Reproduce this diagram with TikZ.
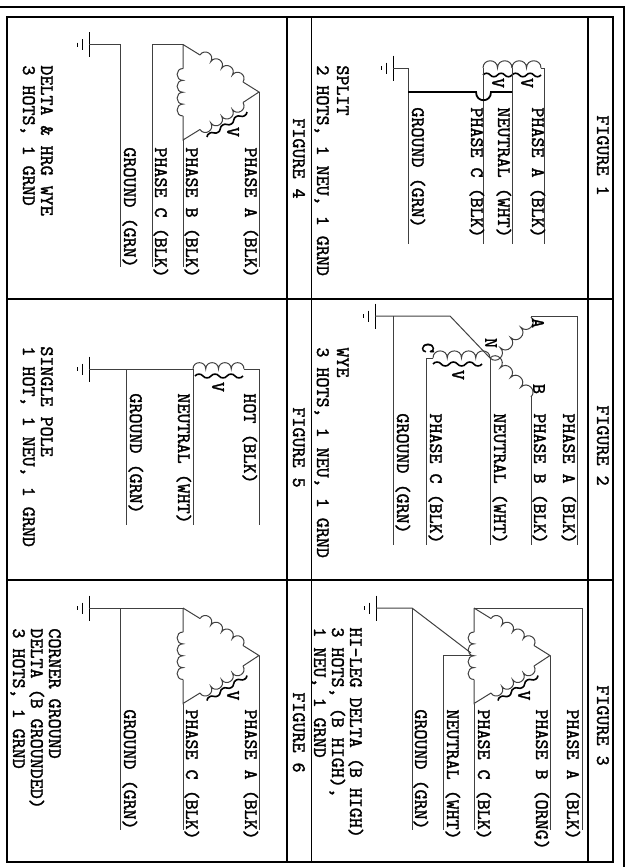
\documentclass[tikz,border=0pt]{standalone}
\usepackage{xcolor}
\usepackage{fontspec}
\usetikzlibrary{calc}
\newfontfamily\lblfont[FakeBold=1.6]{Latin Modern Mono}

% ground symbol, three bars left of the point
\newcommand{\gndsym}[3]{
	\coordinate (#1) at (#2,#3);
	\draw [bar] (#2,#3-12.5) -- (#2,#3+12.5);
	\draw [bar] (#2-7,#3-5.5) -- (#2-7,#3+5.5);
	\draw [bar] (#2-12,#3-2) -- (#2-12,#3+2);
}
% winding from #1 to #2 with #3 humps on the left of the way
\newcommand{\coilwire}[3]{
	\draw [wire] (#1) \foreach \i in {1,...,#3} { to [hump] ($(#1)!\i/#3!(#2)$) };
}
% voltage squiggle from #1 to #2 with #3 half waves
\newcommand{\wigglewire}[3]{
	\draw [wiggle] (#1) \foreach \i [evaluate=\i as \s using {(2*mod(\i,2)-1)*55}, evaluate=\s as \e using {180-\s}] in {1,...,#3} { to [out=\s,in=\e,relative] ($(#1)!\i/#3!(#2)$) };
}
% delta winding, corners are #1a #1b #1c
\newcommand{\deltabank}[3]{
	\begin{scope}[shift={(#2,#3)}]
		\coordinate (#1a) at (0,0);
		\coordinate (#1b) at (76,47.5);
		\coordinate (#1c) at (0,95.5);
		\coordinate (#1p) at (17,10.5);
		\coordinate (#1q) at (60,37.5);
		\coordinate (#1r) at (60,58);
		\coordinate (#1s) at (17,85);
		\coordinate (#1t) at (0,71.5);
		\coordinate (#1u) at (0,24);
		\coordinate (#1w) at (64,67.5);
		\coordinate (#1x) at (24,92.5);
		\draw [wire] (#1a) -- (#1p) (#1q) -- (#1b) -- (#1r) (#1s) -- (#1c) -- (#1t) (#1u) -- (#1a);
		\coilwire{#1p}{#1q}{4}
		\coilwire{#1r}{#1s}{4}
		\coilwire{#1t}{#1u}{4}
		\wigglewire{#1w}{#1x}{6}
		\node (#1v) [lbl,anchor=center] at (50,87.5) {V};
	\end{scope}
}

\begin{document}
\begin{tikzpicture}[
				x = 0.5pt,
				y = -0.5pt,
				wire/.style = {line width = 0.5pt, black!75},
				bar/.style = {line width = 0.5pt, black},
				heavy/.style = {line width = 0.8pt, black},
				bond/.style = {line width = 0.9pt, black},
				hump/.style = {out = 90, in = 90, relative, looseness = 1.7},
				wiggle/.style = {line width = 0.8pt, black},
				lbl/.style = {rotate = -90, anchor = base west, inner sep = 0pt, font = \fontsize{9.55}{10}\selectfont\lblfont}
				]
	\useasboundingbox (0,0) rectangle (629,867);

	% frame and table
	\draw [heavy] (0,7) -- (624,7) -- (624,867);
	\draw [heavy] (7,17) rectangle (613,862);
	\draw [heavy] (287,17) -- (287,862);
	\draw [bar] (311,17) -- (311,862);
	\draw [heavy] (588,17) -- (588,862);
	\draw [heavy] (7,299) -- (613,299);
	\draw [heavy] (7,580) -- (613,580);

	\node (title1) [lbl] at (597,115) {FIGURE 1};
	\node (title2) [lbl] at (597,405) {FIGURE 2};
	\node (title3) [lbl] at (597,685) {FIGURE 3};
	\node (title4) [lbl] at (293,118) {FIGURE 4};
	\node (title5) [lbl] at (293,407) {FIGURE 5};
	\node (title6) [lbl] at (293,692) {FIGURE 6};

	% figure 1
	\gndsym{g1}{393}{68}
	\coordinate (top1c) at (483,68);
	\coordinate (top1n) at (512,68);
	\coordinate (top1a) at (541,68);
	\coordinate (top1g) at (408,68);
	\coordinate (end1a) at (544,244);
	\coordinate (end1n) at (512,244);
	\coordinate (end1c) at (483,244);
	\coordinate (end1g) at (408,244);
	\coordinate (wgl1a) at (483,75);
	\coordinate (wgl1b) at (512,75);
	\coordinate (wgl1c) at (541,75);
	\coordinate (bond1g) at (408,92);
	\coordinate (bond1n) at (512,92);
	\coilwire{top1c}{top1n}{2}
	\coilwire{top1n}{top1a}{2}
	\wigglewire{wgl1a}{wgl1b}{4}
	\wigglewire{wgl1b}{wgl1c}{4}
	\draw [wire] (top1a) -| (end1a);
	\draw [wire] (top1n) -- (end1n);
	\draw [wire] (top1c) -- (end1c);
	\draw [wire] (g1) -- (top1g) -- (end1g);
	\draw [bond] (bond1g) -- (476,92) .. controls (476,103) and (491,103) .. (491,92) -- (bond1n);
	\node (v1a) [lbl,anchor=center] at (527,83) {V};
	\node (v1b) [lbl,anchor=center] at (498,83) {V};
	\node (w1a) [lbl] at (532,107) {PHASE A (BLK)};
	\node (w1n) [lbl] at (498,107) {NEUTRAL (WHT)};
	\node (w1c) [lbl] at (471,107) {PHASE C (BLK)};
	\node (w1g) [lbl] at (412,107) {GROUND (GRN)};
	\node (cap1a) [lbl] at (337,65) {SPLIT};
	\node (cap1b) [lbl] at (317,65) {2 HOTS, 1 NEU, 1 GRND};

	% figure 2
	\gndsym{g2}{375}{316}
	\coordinate (n2) at (490,358);
	\coordinate (knee2) at (450,316);
	\coordinate (top2g) at (393,316);
	\coordinate (coil2a) at (531,317);
	\coordinate (coil2b) at (531,397);
	\coordinate (coil2c) at (433,358);
	\coordinate (top2a) at (577,316);
	\coordinate (top2b) at (531,316);
	\coordinate (top2c) at (426,358);
	\coordinate (end2a) at (577,545);
	\coordinate (end2b) at (531,545);
	\coordinate (end2n) at (490,545);
	\coordinate (end2c) at (426,545);
	\coordinate (end2g) at (393,545);
	\coordinate (wgl2a) at (433,364);
	\coordinate (wgl2b) at (482,364);
	\draw [wire] (g2) -- (knee2) -- (n2);
	\draw [wire] (top2g) -- (end2g);
	\draw [wire] (coil2a) -- (top2b) -- (top2a) -- (end2a);
	\draw [wire] (coil2b) -- (end2b);
	\draw [wire] (n2) -- (end2n);
	\draw [wire] (coil2c) -- (top2c) -- (end2c);
	\coilwire{coil2a}{n2}{4}
	\coilwire{n2}{coil2b}{4}
	\coilwire{coil2c}{n2}{4}
	\wigglewire{wgl2a}{wgl2b}{6}
	\node (v2) [lbl,anchor=center] at (458,375) {V};
	\node (pa2) [lbl,anchor=center] at (538,323) {A};
	\node (pb2) [lbl,anchor=center] at (539,389) {B};
	\node (pn2) [lbl,anchor=center] at (491,343) {N};
	\node (pc2) [lbl,anchor=center] at (428,348) {C};
	\node (w2a) [lbl] at (563,413) {PHASE A (BLK)};
	\node (w2b) [lbl] at (534,413) {PHASE B (BLK)};
	\node (w2n) [lbl] at (494,413) {NEUTRAL (WHT)};
	\node (w2c) [lbl] at (430,413) {PHASE C (BLK)};
	\node (w2g) [lbl] at (397,413) {GROUND (GRN)};
	\node (cap2a) [lbl] at (337,347) {WYE};
	\node (cap2b) [lbl] at (317,347) {3 HOTS, 1 NEU, 1 GRND};

	% figure 3
	\gndsym{g3}{376}{608}
	\deltabank{d3}{474}{608}
	\coordinate (knee3) at (412,608);
	\coordinate (tap3) at (471,653);
	\coordinate (mid3) at (474,655);
	\coordinate (top3n) at (443,655);
	\coordinate (top3a) at (582,608);
	\coordinate (end3a) at (582,830);
	\coordinate (end3b) at (550,830);
	\coordinate (end3c) at (474,830);
	\coordinate (end3n) at (443,830);
	\coordinate (end3g) at (412,830);
	\draw [wire] (g3) -- (knee3) -- (tap3);
	\draw [wire] (knee3) -- (end3g);
	\draw [wire] (d3a) -- (top3a) -- (end3a);
	\draw [wire] (d3b) -- (end3b);
	\draw [wire] (d3c) -- (end3c);
	\draw [wire] (mid3) -- (top3n) -- (end3n);
	\node (w3a) [lbl] at (567,709) {PHASE A (BLK)};
	\node (w3b) [lbl] at (536,709) {PHASE B (ORNG)};
	\node (w3c) [lbl] at (478,709) {PHASE C (BLK)};
	\node (w3n) [lbl] at (447,709) {NEUTRAL (WHT)};
	\node (w3g) [lbl] at (415,709) {GROUND (GRN)};
	\node (cap3a) [lbl] at (350,627) {HI-LEG DELTA (B HIGH)};
	\node (cap3b) [lbl] at (332,627) {3 HOTS, (B HIGH),};
	\node (cap3c) [lbl] at (314,627) {1 NEU, 1 GRND};

	% figure 4
	\gndsym{g4}{89}{44.5}
	\deltabank{d4}{183}{44.5}
	\coordinate (top4c) at (152,44.5);
	\coordinate (top4g) at (120,44.5);
	\coordinate (end4a) at (259,267);
	\coordinate (end4b) at (183,267);
	\coordinate (end4c) at (152,267);
	\coordinate (end4g) at (120,267);
	\draw [wire] (d4b) -- (end4a);
	\draw [wire] (d4c) -- (end4b);
	\draw [wire] (d4a) -- (top4c) -- (end4c);
	\draw [wire] (g4) -- (top4g) -- (end4g);
	\node (w4a) [lbl] at (245,147) {PHASE A (BLK)};
	\node (w4b) [lbl] at (186,147) {PHASE B (BLK)};
	\node (w4c) [lbl] at (155,147) {PHASE C (BLK)};
	\node (w4g) [lbl] at (124,147) {GROUND (GRN)};
	\node (cap4a) [lbl] at (41,65) {DELTA \& HRG WYE};
	\node (cap4b) [lbl] at (23,65) {3 HOTS, 1 GRND};

	% figure 5
	\gndsym{g5}{89}{369}
	\coordinate (coil5a) at (193,369);
	\coordinate (coil5b) at (244,369);
	\coordinate (top5h) at (259,369);
	\coordinate (top5g) at (126,369);
	\coordinate (end5h) at (259,525);
	\coordinate (end5n) at (193,525);
	\coordinate (end5g) at (126,525);
	\coordinate (wgl5a) at (195,376);
	\coordinate (wgl5b) at (243,376);
	\draw [wire] (g5) -- (coil5a) -- (end5n);
	\coilwire{coil5a}{coil5b}{4}
	\draw [wire] (coil5b) -- (top5h) -- (end5h);
	\draw [wire] (top5g) -- (end5g);
	\wigglewire{wgl5a}{wgl5b}{6}
	\node (v5) [lbl,anchor=center] at (218,387) {V};
	\node (w5h) [lbl] at (244,393) {HOT (BLK)};
	\node (w5n) [lbl] at (178,393) {NEUTRAL (WHT)};
	\node (w5g) [lbl] at (130,393) {GROUND (GRN)};
	\node (cap5a) [lbl] at (41,346) {SINGLE POLE};
	\node (cap5b) [lbl] at (23,346) {1 HOT, 1 NEU, 1 GRND};

	% figure 6
	\gndsym{g6}{89}{608}
	\deltabank{d6}{183}{608}
	\coordinate (top6g) at (120,608);
	\coordinate (end6a) at (259,830);
	\coordinate (end6c) at (183,830);
	\coordinate (end6g) at (120,830);
	\draw [wire] (g6) -- (d6a);
	\draw [wire] (top6g) -- (end6g);
	\draw [wire] (d6b) -- (end6a);
	\draw [wire] (d6c) -- (end6c);
	\node (w6a) [lbl] at (245,709) {PHASE A (BLK)};
	\node (w6c) [lbl] at (186,709) {PHASE C (BLK)};
	\node (w6g) [lbl] at (124,709) {GROUND (GRN)};
	\node (cap6a) [lbl] at (49,628) {CORNER GROUND};
	\node (cap6b) [lbl] at (31,628) {DELTA (B GROUNDED)};
	\node (cap6c) [lbl] at (13,628) {3 HOTS, 1 GRND};
\end{tikzpicture}
\end{document}
